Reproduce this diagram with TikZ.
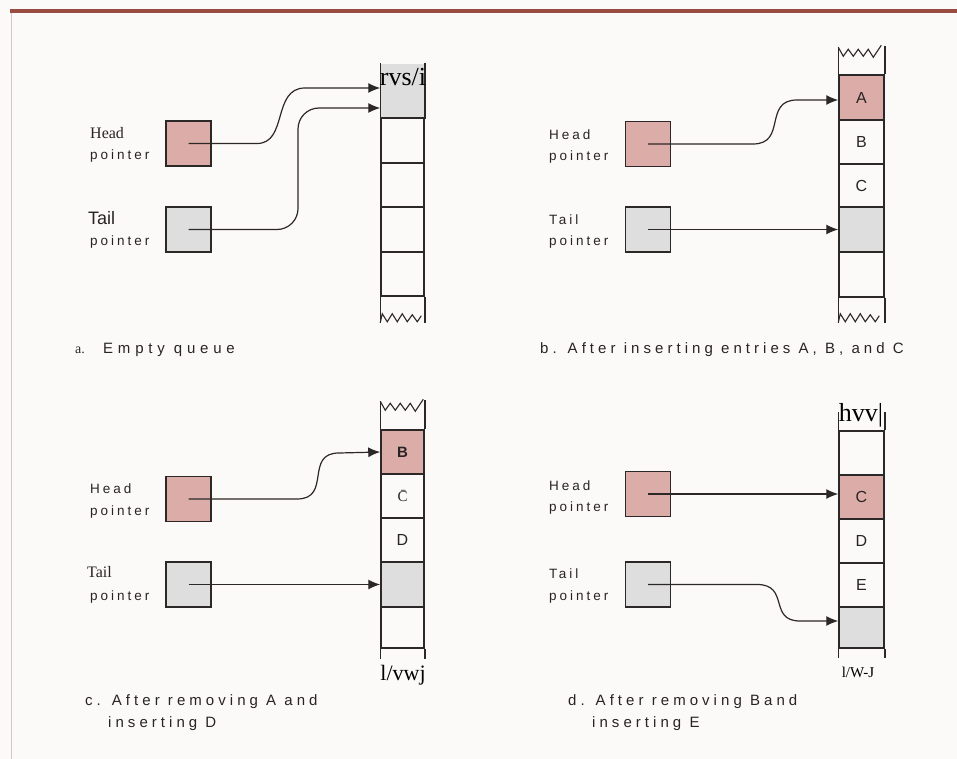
\documentclass[tikz,border=0pt]{standalone}
\usepackage{fontspec}
\setmainfont{Liberation Serif}
\newfontfamily\labf[LetterSpace=22]{Liberation Sans}
\newfontfamily\capf[LetterSpace=27]{Liberation Sans}
\newfontfamily\capaf[LetterSpace=32]{Liberation Sans}
\newfontfamily\plainsans{Liberation Sans}
\usetikzlibrary{arrows.meta}
\definecolor{bgc}{RGB}{252,249,249}
\definecolor{topc}{RGB}{152,76,66}
\definecolor{leftc}{RGB}{205,200,200}
\definecolor{pinkf}{RGB}{220,172,168}
\definecolor{grayf}{RGB}{222,222,222}
\definecolor{linec}{RGB}{45,40,40}
\definecolor{txtc}{RGB}{40,36,36}
\tikzset{
  ptrbox/.style={draw=linec, line width=1.4pt, minimum width=45pt, minimum height=45pt, inner sep=0pt},
  headbox/.style={ptrbox, fill=pinkf},
  tailbox/.style={ptrbox, fill=grayf},
  qcell/.style={draw=linec, line width=1.5pt, inner sep=0pt, text=txtc, font=\plainsans\fontsize{16}{16}\selectfont},
  acell/.style={qcell, minimum width=43pt},
  bcell/.style={qcell, minimum width=45pt},
  colline/.style={draw=linec, line width=1.5pt},
  zz/.style={draw=linec, line width=1.1pt, line join=miter},
  arr/.style={draw=linec, line width=1.2pt, -{Latex[length=12pt,width=10pt]}},
  lab/.style={inner sep=0pt, anchor=base west, text=txtc, font=\labf\fontsize{13.5}{15}\selectfont},
  caption/.style={inner sep=0pt, anchor=base west, text=txtc, font=\capf\fontsize{15}{17}\selectfont},
  sertxt/.style={inner sep=0pt, anchor=base west, text=txtc},
  garb/.style={inner sep=0pt, anchor=base, text=black},
}
\newcommand\zigbot[1]{\draw[zz] #1 -- ++(2,-9) -- ++(5,8) -- ++(5,-8) -- ++(5,8) -- ++(5,-8) -- ++(5,8) -- ++(5,-7) -- ++(5,7) -- ++(4,-6);}
\newcommand\zigtop[1]{\draw[zz] #1 -- ++(5,9) -- ++(5,-7) -- ++(5,7) -- ++(5,-7) -- ++(5,7) -- ++(5,-7) -- ++(5,8) -- ++(8,-12);}
\begin{document}
\begin{tikzpicture}[x=1pt,y=-1pt]
\useasboundingbox (0,0) rectangle (957,759);
\fill[bgc] (0,0) rectangle (957,759);
\draw[topc, line width=4.5pt] (10,11) -- (957,11);
\draw[leftc, line width=1pt] (11,13) -- (11,759);

% ---------------- panel a ----------------
\node[headbox] (ha) at (188.5,143.5) {};
\node[tailbox] (ta) at (188.5,229.5) {};
\node[sertxt, font=\fontsize{16}{18}\selectfont] (ahl) at (90,139) {Head};
\node[lab] (ahp) at (90,160) {pointer};
\node[sertxt, font=\plainsans\fontsize{18}{20}\selectfont] (atl) at (88,225) {Tail};
\node[lab] (atp) at (90,245) {pointer};
\node[acell, fill=grayf, draw=none, minimum height=54pt] (a0) at (402.5,91) {};
\node[acell, minimum height=45pt] (a1) at (402.5,140.5) {};
\node[acell, minimum height=44pt] (a2) at (402.5,185) {};
\node[acell, minimum height=45pt] (a3) at (402.5,229.5) {};
\node[acell, minimum height=44pt] (a4) at (402.5,274) {};
\draw[colline] (a0.north west) -- (a0.south west) (a0.north east) -- (a0.south east);
\draw[colline] (a4.south west) -- ++(0,26) coordinate (abl);
\draw[colline] (a4.south east) -- ++(0,26) coordinate (abr);
\zigbot{(abl)}
\node[garb, font=\fontsize{26}{26}\selectfont] (agt) at (403,86) {rvs/i};
\coordinate (ahT) at ([yshift=3pt]a0.west);
\coordinate (atT) at ([yshift=-17pt]a0.west);
\draw[arr] (ha.center) -- (257,143.5) .. controls (288,143.5) and (272,88) .. (305,88) -- (ahT);
\draw[arr, rounded corners=21pt] (ta.center) -| (298,108) -- (atT);
\node[sertxt, font=\fontsize{14}{16}\selectfont] (aca) at (75,353) {a.};
\node[caption, font=\capaf\fontsize{15}{17}\selectfont] (acb) at (103,353) {Empty queue};

% ---------------- panel b ----------------
\node[headbox] (hb) at (648,144) {};
\node[tailbox] (tb) at (648,229.5) {};
\node[lab] (bhl) at (549,140) {Head};
\node[lab] (bhp) at (549,161) {pointer};
\node[lab] (btl) at (549,225) {Tail};
\node[lab] (btp) at (549,245) {pointer};
\node[bcell, fill=pinkf, minimum height=45pt] (b0) at (861.5,97.5) {A};
\node[bcell, minimum height=44pt] (b1) at (861.5,142) {B};
\node[bcell, minimum height=43pt] (b2) at (861.5,185.5) {C};
\node[bcell, fill=grayf, minimum height=45pt] (b3) at (861.5,229.5) {};
\node[bcell, minimum height=45pt] (b4) at (861.5,274.5) {};
\draw[colline] (b0.north west) -- ++(0,-27) coordinate (btl0);
\draw[colline] (b0.north east) -- ++(0,-28);
\zigtop{(btl0)}
\draw[colline] (b4.south west) -- ++(0,25) coordinate (bbl);
\draw[colline] (b4.south east) -- ++(0,25);
\zigbot{(bbl)}
\coordinate (bhT) at ([yshift=-2.5pt]b0.west);
\draw[arr] (hb.center) -- (753,144) .. controls (787,144) and (763,100) .. (797,100) -- (bhT);
\draw[arr] (tb.center) -- (b3.west);
\node[caption] (bca) at (540,353) {b. After inserting entries A, B, and C};

% ---------------- panel c ----------------
\node[headbox] (hc) at (188.5,499) {};
\node[tailbox] (tc) at (188.5,584.5) {};
\node[lab] (chl) at (90,493) {Head};
\node[lab] (chp) at (90,515) {pointer};
\node[sertxt, font=\fontsize{16}{18}\selectfont] (ctl) at (87,577) {Tail};
\node[lab] (ctp) at (90,600) {pointer};
\node[acell, fill=pinkf, minimum height=44pt, font=\plainsans\bfseries\fontsize{15}{15}\selectfont] (c0) at (402.5,452) {B};
\node[acell, minimum height=44pt, font=\fontsize{15}{15}\selectfont] (c1) at (402.5,496) {\={C}};
\node[acell, minimum height=44pt] (c2) at (402.5,540) {D};
\node[acell, fill=grayf, minimum height=45pt] (c3) at (402.5,584.5) {};
\node[acell, minimum height=41pt] (c4) at (402.5,627.5) {};
\draw[colline] (c0.north west) -- ++(0,-28) coordinate (ctl0);
\draw[colline] (c0.north east) -- ++(0,-29);
\zigtop{(ctl0)}
\draw[colline] (c4.south west) -- ++(0,10);
\draw[colline] (c4.south east) -- ++(0,10);
\node[garb, font=\fontsize{22}{22}\selectfont] (cgt) at (403,680) {l/vwj};
\draw[arr] (hc.center) -- (297,499) .. controls (332,499) and (304,453) .. (339,453) -- (c0.west);
\draw[arr] (tc.center) -- (c3.west);
\node[caption] (cca) at (85,705) {c. After removing A and};
\node[caption] (ccb) at (108,727) {inserting D};

% ---------------- panel d ----------------
\node[headbox] (hd) at (648,494) {};
\node[tailbox] (td) at (648,584.5) {};
\node[lab] (dhl) at (549,490) {Head};
\node[lab] (dhp) at (549,511) {pointer};
\node[lab] (dtl) at (549,578) {Tail};
\node[lab] (dtp) at (549,600) {pointer};
\node[bcell, minimum height=44pt] (d0) at (861.5,453) {};
\node[bcell, fill=pinkf, minimum height=44pt] (d1) at (861.5,497) {C};
\node[bcell, minimum height=44pt] (d2) at (861.5,541) {D};
\node[bcell, minimum height=44pt] (d3) at (861.5,585) {E};
\node[bcell, fill=grayf, minimum height=41pt] (d4) at (861.5,627.5) {};
\draw[colline] (d0.north west) -- ++(0,-18);
\draw[colline] (d0.north east) -- ++(0,-18);
\draw[colline] (d4.south west) -- ++(0,9);
\draw[colline] (d4.south east) -- ++(0,9);
\node[garb, font=\fontsize{26}{26}\selectfont] (dgt) at (861,421) {hvv|};
\node[garb, font=\fontsize{15}{15}\selectfont] (dgb) at (858,677) {l/W-J};
\draw[arr] (hd.center) -- (hd.center -| d1.west);
\coordinate (dtT) at ([yshift=6.5pt]d4.west);
\draw[arr] (td.center) -- (757,584.5) .. controls (790,584.5) and (768,621) .. (800,621) -- (dtT);
\node[caption] (dca) at (568,705) {d. After removing Band};
\node[caption] (dcb) at (592,727) {inserting E};
\end{tikzpicture}
\end{document}
